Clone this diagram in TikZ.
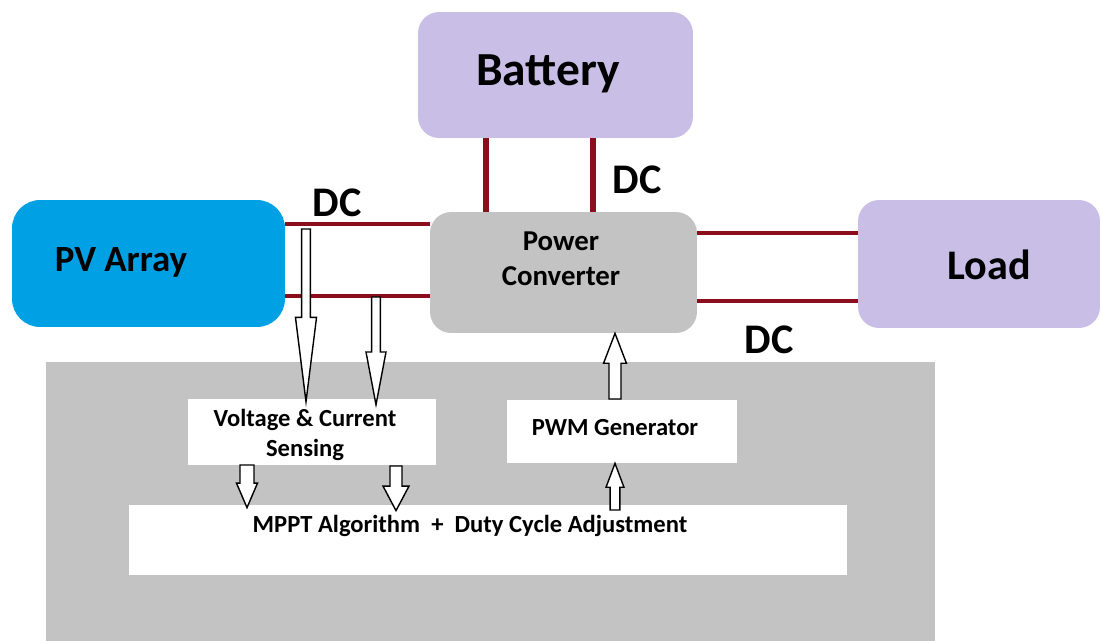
\documentclass[tikz,border=0pt]{standalone}
\usepackage{fontspec}
\setmainfont{Carlito}
\usetikzlibrary{calc}
\definecolor{pvblue}{RGB}{0,161,228}
\definecolor{lavender}{RGB}{200,190,230}
\definecolor{boxgray}{RGB}{195,195,195}
\definecolor{dcred}{RGB}{140,14,28}
\tikzset{
  unit/.style={draw=none, rounded corners=12pt, inner sep=0pt},
  panel/.style={draw=none, fill=white, inner sep=0pt},
  dcline/.style={dcred, line width=2.3pt},
  dcbus/.style={dcred, line width=3.4pt},
  bigtxt/.style={font=\fontsize{#1}{27}\selectfont\bfseries},
  bigtxt/.default=23,
  midtxt/.style={font=\fontsize{16.4}{20}\selectfont\bfseries, align=center},
  smalltxt/.style={font=\fontsize{14}{17}\selectfont\bfseries, align=center},
  % hollow block arrow: shaft half width, head half width, head length
  blockarr/.style n args={3}{draw=black, fill=white, line width=0.8pt, to path={
    let \p1=(\tikztostart), \p2=(\tikztotarget), \n1={sign(\y2-\y1)} in
    (\x1-#1,\y1) -- (\x1-#1,\y2-\n1*#3) -- (\x1-#2,\y2-\n1*#3) -- (\x1,\y2)
    -- (\x1+#2,\y2-\n1*#3) -- (\x1+#1,\y2-\n1*#3) -- (\x1+#1,\y1) -- cycle}}
}
\begin{document}
\begin{tikzpicture}[x=0.02cm, y=-0.02cm]
\useasboundingbox (0,0) rectangle (1102,640);
% main units
\node[unit, fill=lavender, minimum width=5.5cm, minimum height=2.52cm] (bat) at (555.5,75) {};
\node[unit, fill=pvblue, rounded corners=16pt, minimum width=5.46cm, minimum height=2.54cm] (pv) at (148.5,263.5) {};
\node[unit, fill=boxgray, minimum width=5.34cm, minimum height=2.42cm] (conv) at (563.5,272.5) {};
\node[unit, fill=lavender, minimum width=4.84cm, minimum height=2.56cm] (load) at (979,264) {};
% control section
\node[unit, fill=boxgray, rounded corners=0pt, minimum width=17.78cm, minimum height=5.76cm] (ctrl) at (490.5,506) {};
\node[panel, minimum width=4.96cm, minimum height=1.32cm] (vcs) at (312,432) {};
\node[panel, minimum width=4.6cm, minimum height=1.26cm] (pwm) at (622,431.5) {};
\node[panel, minimum width=14.36cm, minimum height=1.4cm] (mppt) at (488,540) {};
% labels
\node[bigtxt=27] (battxt) at (548,74) {Battery};
\node[bigtxt=21] (pvtxt) at (121,262) {PV Array};
\node[midtxt] (convtxt) at (561,259) {Power\\Converter};
\node[bigtxt=24] (loadtxt) at (989,265) {Load};
\node[smalltxt] (vcstxt) at (305,435) {Voltage \& Current\\Sensing};
\node[smalltxt] (pwmtxt) at (615,428) {PWM Generator};
\node[smalltxt] (mppttxt) at (470,526) {MPPT Algorithm \ + \ Duty Cycle Adjustment};
\node[bigtxt=24] (dc1) at (337,203) {DC};
\node[bigtxt=24] (dc2) at (637,180) {DC};
\node[bigtxt=24] (dc3) at (769,340) {DC};
% DC links
\draw[dcline] (pv.east |- 0,224) -- (conv.west |- 0,224);
\draw[dcline] (pv.east |- 0,296) -- (conv.west |- 0,296);
\draw[dcline] (conv.east |- 0,233) -- (load.west |- 0,233);
\draw[dcline] (conv.east |- 0,301) -- (load.west |- 0,301);
\foreach \x in {486,593} \draw[dcbus] (bat.south -| \x,0) -- (conv.north -| \x,0);
% sensing and control arrows
\coordinate (s1) at (306,229);
\coordinate (s2) at (376,297);
\coordinate (s3) at (247,465);
\coordinate (s4) at (396,466);
\coordinate (s5) at (615,510);
\coordinate (s6) at (615,399);
\path[blockarr={2.5pt}{6pt}{48pt}] (s1) to ($(s1 |- vcs.north)+(0,3)$);
\path[blockarr={2.5pt}{5.7pt}{30pt}] (s2) to ($(s2 |- vcs.north)+(0,6)$);
\path[blockarr={4pt}{6pt}{14pt}] (s3) to ($(s3 |- mppt.north)+(0,3)$);
\path[blockarr={3.4pt}{7.4pt}{14pt}] (s4) to ($(s4 |- mppt.north)+(0,6)$);
\path[blockarr={2.8pt}{5.1pt}{13.6pt}] (s5) to (s5 |- pwm.south);
\path[blockarr={3.4pt}{6.5pt}{17pt}] (s6) to (s6 |- conv.south);
\end{tikzpicture}
\end{document}
